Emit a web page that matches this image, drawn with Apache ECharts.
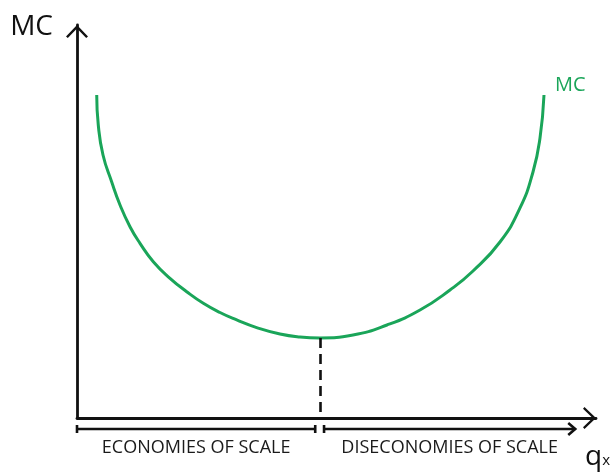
<!DOCTYPE html>
<html>
<head>
<meta charset="utf-8">
<script src="https://cdn.jsdelivr.net/npm/echarts@6/dist/echarts.min.js"></script>
<style>html,body{margin:0;padding:0;background:#fff;}#c{width:616px;height:472px;}</style>
</head>
<body>
<div id="c"></div>
<script>
// Quantity (x) and marginal cost (y) (axis units 0-100)
const qValues  = [3.80, 4.10, 5.01, 6.69, 8.29, 10.21, 12.14, 14.70, 17.92, 21.14, 24.34, 27.55, 30.77, 34.62, 39.11, 42.97, 46.82, 53.18, 59.73, 66.09, 71.87, 76.30, 81.50, 85.36, 87.86, 89.21, 89.98];
const mcValues = [82.19, 74.55, 66.92, 60.05, 54.20, 48.68, 44.45, 39.77, 35.55, 32.14, 29.19, 26.84, 24.94, 22.98, 21.37, 20.61, 20.36, 21.12, 23.66, 27.48, 32.57, 37.40, 44.78, 53.44, 62.60, 71.25, 82.19];
const minIndex = 16;
const scaleLabels = ['ECONOMIES OF SCALE', 'DISECONOMIES OF SCALE'];
const bracketStarts = [0, 47.6];
const bracketEnds = [45.9, 96.0];
const axisNames = ['MC', 'q', 'x'];
const curveName = 'MC';

const GREEN = '#1aa559';
const INK = '#111';
const FONT = 'Open Sans';
const chevron = 'path://M11,0 L22,11.5 L20.2,13 L11,3.4 L1.8,13 L0,11.5 Z';

const curveData = qValues.map((q, i) => [q, mcValues[i]]);
const bracketData = bracketStarts.map((s, i) => [s, bracketEnds[i]]);
const minQ = qValues[minIndex], minMC = mcValues[minIndex];

const chart = echarts.init(document.getElementById('c'), null, {renderer: 'canvas'});
chart.setOption({
  backgroundColor: '#fff',
  animation: false,
  grid: {left: 77, right: 20, top: 25, bottom: 54},
  xAxis: {
    type: 'value', min: 0, max: 100,
    splitLine: {show: false}, axisTick: {show: false}, axisLabel: {show: false},
    axisLine: {show: true, lineStyle: {color: INK, width: 2.8},
      symbol: ['none', chevron], symbolSize: [22, 13], symbolOffset: [0, -6.5]},
    name: '{q|' + axisNames[1] + '}{s|' + axisNames[2] + '}',
    nameLocation: 'end', nameGap: -11,
    nameTextStyle: {
      align: 'left', verticalAlign: 'top', padding: [25, 0, 0, 0],
      rich: {
        q: {fontFamily: FONT, fontSize: 28, color: INK},
        s: {fontFamily: FONT, fontSize: 15, color: INK, padding: [8, 0, 0, 0]}
      }
    }
  },
  yAxis: {
    type: 'value', min: 0, max: 100,
    splitLine: {show: false}, axisTick: {show: false}, axisLabel: {show: false},
    axisLine: {show: true, lineStyle: {color: INK, width: 2.8},
      symbol: ['none', chevron], symbolSize: [23, 13], symbolOffset: [0, -6.5]},
    name: axisNames[0], nameLocation: 'end', nameGap: -2,
    nameTextStyle: {fontFamily: FONT, fontSize: 28, color: INK, align: 'right', verticalAlign: 'middle', padding: [0, 24, 0, 0]}
  },
  series: [{
    type: 'line', name: curveName, data: curveData, smooth: 0.5,
    showSymbol: false, symbol: 'none',
    lineStyle: {color: GREEN, width: 3},
    endLabel: {show: true, formatter: curveName, color: GREEN, fontFamily: FONT, fontSize: 20, offset: [3, -10]},
    markLine: {
      silent: true, animation: false, symbol: 'none', label: {show: false},
      lineStyle: {color: INK, width: 2.6, type: [10, 6]},
      data: [[{coord: [minQ, minMC]}, {coord: [minQ, 0]}]]
    }
  }, {
    type: 'custom', name: 'scale', data: bracketData, clip: false, silent: true,
    encode: {x: [0, 1]},
    renderItem: function (params, api) {
      const i = params.dataIndex;
      const p0 = api.coord([api.value(0), 0]);
      const p1 = api.coord([api.value(1), 0]);
      const y = p0[1] + 11;
      const st = {stroke: INK, lineWidth: 2.6, fill: null};
      const children = [
        {type: 'line', shape: {x1: p0[0], y1: y, x2: p1[0], y2: y}, style: st},
        {type: 'line', shape: {x1: p0[0], y1: y - 4, x2: p0[0], y2: y + 4}, style: st}
      ];
      if (i === bracketData.length - 1) {
        children.push({type: 'polyline', shape: {points: [[p1[0] - 7, y - 6], [p1[0], y], [p1[0] - 7, y + 6]]}, style: st});
      } else {
        children.push({type: 'line', shape: {x1: p1[0], y1: y - 4, x2: p1[0], y2: y + 4}, style: st});
      }
      children.push({type: 'text', x: (p0[0] + p1[0]) / 2, y: y + 19,
        style: {text: scaleLabels[i], align: 'center', verticalAlign: 'middle', fill: '#1a1a1a', fontFamily: FONT, fontSize: 18}});
      return {type: 'group', children: children};
    }
  }]
});
</script>
</body>
</html>
